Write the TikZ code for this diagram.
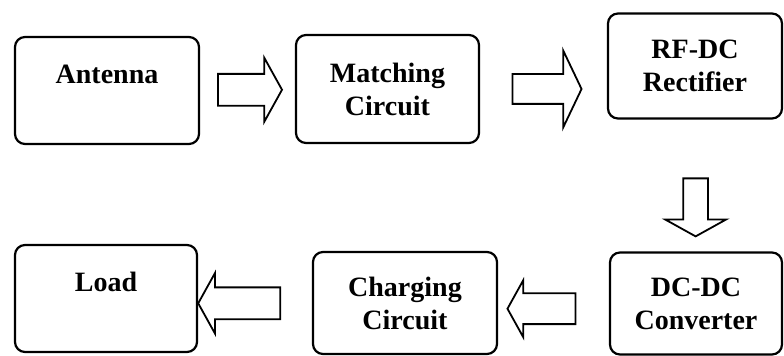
\documentclass[tikz,border=0pt]{standalone}
\usepackage{fontspec}
\setmainfont{Liberation Serif}
\usetikzlibrary{calc,shapes.arrows}

\tikzset{
  block/.style={draw, rounded corners=5pt, line width=1.1pt, align=center, inner sep=0pt,
    font=\bfseries\fontsize{14}{16.5}\selectfont},
  flow/.style={draw, single arrow, line width=0.9pt, inner xsep=0pt, single arrow tip angle=122}
}

\begin{document}
\begin{tikzpicture}[x=0.5pt, y=-0.5pt]
\useasboundingbox (0,0) rectangle (784,356);

% Top row
\node[block, minimum width=92pt, minimum height=53.5pt] (ant) at (107,90.5) {Antenna\\~};
\node[block, minimum width=91.5pt, minimum height=54pt] (match) at (387.5,89) {Matching\\Circuit};
\node[block, minimum width=87pt, minimum height=52.5pt] (rect) at (695,66) {RF-DC\\Rectifier};

% Bottom row
\node[block, minimum width=86pt, minimum height=51pt] (dcdc) at (696,303.5) {DC-DC\\Converter};
\node[block, minimum width=92pt, minimum height=51pt] (chg) at (405,303) {Charging\\Circuit};
\node[block, minimum width=91pt, minimum height=53.5pt] (load) at (106,298.5) {Load\\~};

% Block arrows
\node[flow, minimum height=32pt, inner ysep=7.5pt, single arrow head extend=8pt]
  (a1) at ($(ant.east)!0.48!(match.west)$) {};
\node[flow, minimum height=34.5pt, inner ysep=7pt, single arrow head extend=11.75pt, single arrow tip angle=129]
  (a2) at ($(match.east)!0.5!(rect.west |- match.east)$) {};
\node[flow, rotate=-90, minimum height=29pt, inner ysep=5.75pt, single arrow head extend=9pt]
  (a3) at ($(rect.south)!0.64!(dcdc.north)$) {};
\node[flow, rotate=180, minimum height=34pt, inner ysep=7.25pt, single arrow head extend=6.5pt, yshift=2.75pt]
  (a4) at ($(chg.east)!0.43!(dcdc.west)$) {};
\node[flow, rotate=180, minimum height=41pt, inner ysep=7.5pt, single arrow head extend=7.25pt, yshift=1.5pt]
  (a5) at ($(load.east)!0.4!(chg.west)$) {};

\end{tikzpicture}
\end{document}
